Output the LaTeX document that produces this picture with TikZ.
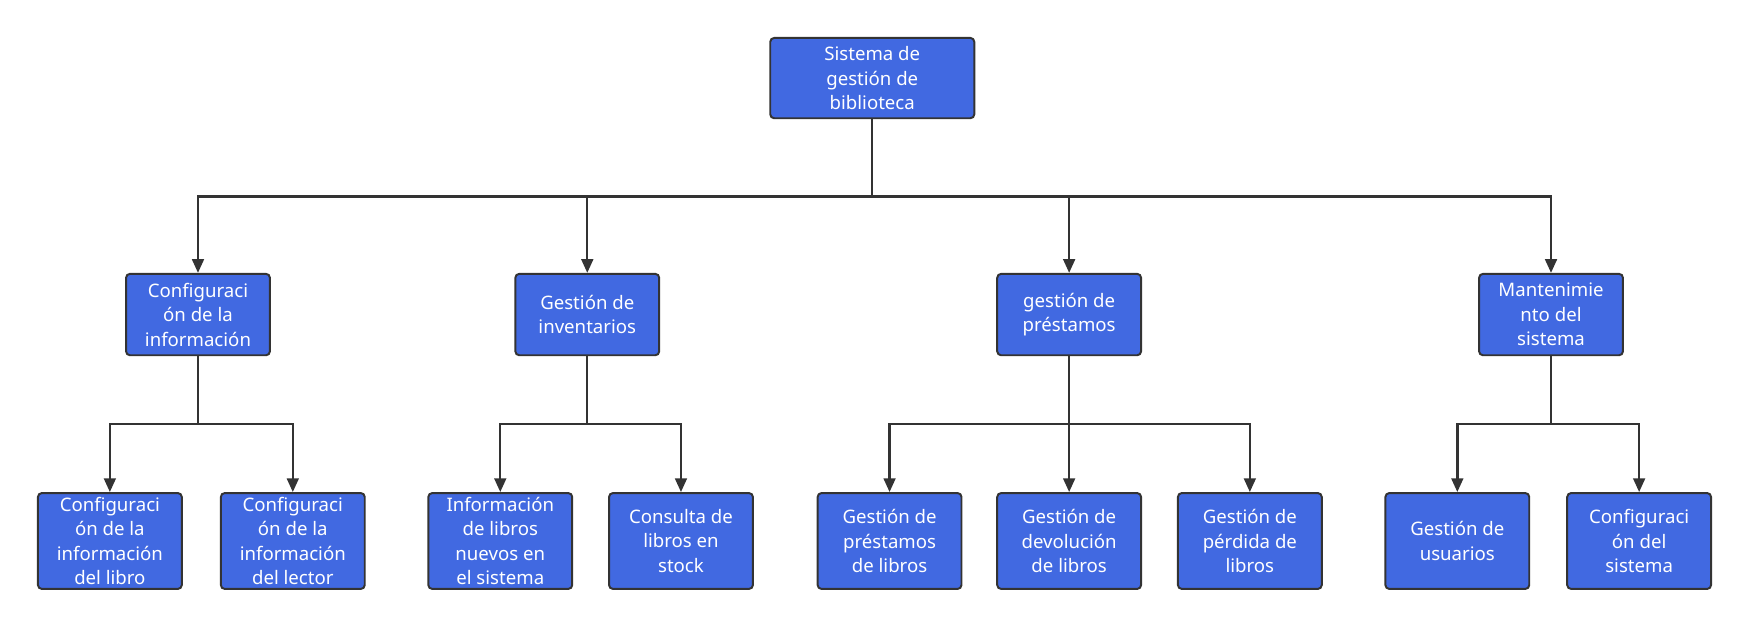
\documentclass[tikz,border=0pt]{standalone}
\usepackage{fontspec}
\setmainfont{Noto Sans}
\usetikzlibrary{positioning, arrows.meta}

\begin{document}
\begin{tikzpicture}[x=0.02cm, y=-0.02cm]
        % Styles
        \definecolor{royal}{HTML}{4169E1}
        \tikzstyle{box} = [draw=black!80, fill=royal, line width=1pt, rounded corners=2pt, text=white, align=center, minimum width=2.58cm, font=\fontsize{9.5}{12.5}\selectfont, inner sep=1pt]
        \tikzstyle{link} = [draw=black!80, line width=1.2pt, -{Triangle[length=7pt, width=6pt]}]

        \useasboundingbox (0,0) rectangle (1568,562);

        % Root
        \node[box, minimum width=3.66cm, minimum height=1.44cm] (root) at (782,70) {Sistema de\\gestión de\\biblioteca};

        % Second level
        \node[box, minimum height=1.46cm] (conf) at (177.5,282) {Configuraci\\ón de la\\información};
        \node[box, minimum height=1.46cm] (inv) at (526.5,282) {Gestión de\\inventarios};
        \node[box, minimum height=1.46cm] (pres) at (958.5,282) {gestión de\\préstamos};
        \node[box, minimum height=1.46cm] (mant) at (1390.5,282) {Mantenimie\\nto del\\sistema};

        % Third level
        \node[box, minimum height=1.72cm] (libro) at (98.5,485) {Configuraci\\ón de la\\información\\del libro};
        \node[box, minimum height=1.72cm] (lector) at (262.5,485) {Configuraci\\ón de la\\información\\del lector};
        \node[box, minimum height=1.72cm] (nuevos) at (448.5,485) {Información\\de libros\\nuevos en\\el sistema};
        \node[box, minimum height=1.72cm] (stock) at (610.5,485) {Consulta de\\libros en\\stock};
        \node[box, minimum height=1.72cm] (gpres) at (797.5,485) {Gestión de\\préstamos\\de libros};
        \node[box, minimum height=1.72cm] (gdev) at (958.5,485) {Gestión de\\devolución\\de libros};
        \node[box, minimum height=1.72cm] (gperd) at (1120.5,485) {Gestión de\\pérdida de\\libros};
        \node[box, minimum height=1.72cm] (usr) at (1306.5,485) {Gestión de\\usuarios};
        \node[box, minimum height=1.72cm] (csis) at (1469.5,485) {Configuraci\\ón del\\sistema};

        % Buses
        \coordinate (top) at (0,176);
        \coordinate (low) at (0,380);

        % Connectors
        \foreach \c in {conf, inv, pres, mant}
            \draw[link] (root.south) -- (root.south |- top) -| (\c.north);
        \foreach \p/\c in {conf/libro, conf/lector, inv/nuevos, inv/stock, pres/gpres, pres/gdev, pres/gperd, mant/usr, mant/csis}
            \draw[link] (\p.south) -- (\p.south |- low) -| (\c.north);
    \end{tikzpicture}
\end{document}
